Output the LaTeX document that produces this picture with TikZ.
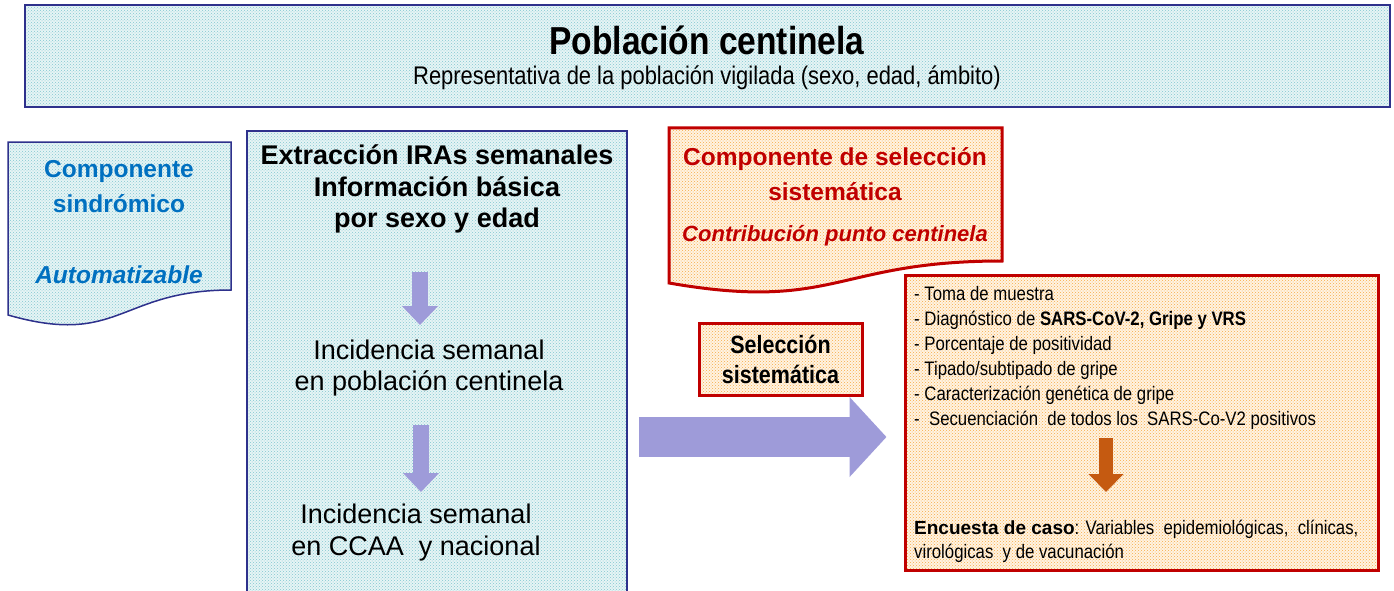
\documentclass[tikz,border=0pt]{standalone}
\usepackage{fontspec}
\setmainfont{Liberation Sans}
\newfontfamily\narrowfont[FakeStretch=0.86]{Liberation Sans}
\usepackage{tikz}
\usetikzlibrary{arrows.meta,patterns,positioning}

\definecolor{clrNavy}{RGB}{46,49,140}
\definecolor{clrTealBg}{RGB}{230,244,245}
\definecolor{clrTealDot}{RGB}{130,200,208}
\definecolor{clrOrangeBg}{RGB}{255,243,226}
\definecolor{clrOrangeDot}{RGB}{246,172,70}
\definecolor{clrRed}{RGB}{192,0,0}
\definecolor{clrBlue}{RGB}{0,112,192}
\definecolor{clrLav}{RGB}{158,155,217}
\definecolor{clrRust}{RGB}{197,90,17}

\tikzstyle{fill_teal}=[preaction={fill=clrTealBg}, pattern=crosshatch dots, pattern color=clrTealDot]
\tikzstyle{fill_orange}=[preaction={fill=clrOrangeBg}, pattern=crosshatch dots, pattern color=clrOrangeDot]
\tikzstyle{box_blue}=[draw=clrNavy, line width=1.5pt, fill_teal, inner sep=0pt]
\tikzstyle{box_red}=[draw=clrRed, line width=3pt, fill_orange, inner sep=0pt]
\tikzstyle{txt}=[inner sep=0pt, align=center]
\tikzstyle{blockarrow}=[line width=16pt, draw=clrLav, -{Triangle[length=19pt,width=35pt]}]
\tikzstyle{bigarrow}=[line width=40pt, draw=clrLav, -{Triangle[length=37pt,width=78pt]}]
\tikzstyle{rustarrow}=[line width=14pt, draw=clrRust, -{Triangle[length=18pt,width=34pt]}]

\begin{document}
\begin{tikzpicture}[x=1pt, y=-1pt]
	\useasboundingbox (0,0) rectangle (1394,591);

	% central column
	\node[box_blue, minimum width=380, minimum height=469] (mid) at (437,365.5) {};
	\node[txt, font=\bfseries\fontsize{27}{31.5}\selectfont] (extr) at (437,189)
		{Extracción IRAs semanales\\Información básica\\por sexo y edad};
	\node[txt, font=\fontsize{27}{31}\selectfont] (inc1) at (429,368)
		{Incidencia semanal\\en población centinela};
	\node[txt, font=\fontsize{27}{32}\selectfont] (inc2) at (416,533)
		{Incidencia semanal\\en CCAA~~y nacional};
	\coordinate (a1s) at (420,272);
	\coordinate (a1e) at (420,325);
	\coordinate (a2s) at (421,425);
	\coordinate (a2e) at (421,492);
	\draw[blockarrow] (a1s) -- (a1e);
	\draw[blockarrow] (a2s) -- (a2e);

	% top banner
	\node[box_blue, line width=2pt, minimum width=1365, minimum height=102] (pob) at (707.5,56) {};
	\node[txt, font=\narrowfont\bfseries\fontsize{39}{44}\selectfont] (title) at (707,40) {Población~centinela};
	\node[txt, font=\narrowfont\fontsize{25.5}{30}\selectfont] (sub) at (707,78)
		{Representativa de la población vigilada (sexo, edad, ámbito)};

	% syndromic component
	\draw[box_blue] (8,142) -- (231,142) -- (231,290) .. controls (119.5,290) and (119.5,347) .. (8,315) -- cycle;
	\node[txt, text=clrBlue, font=\bfseries\fontsize{24.5}{35}\selectfont] (sindro) at (119,187)
		{Componente\\sindrómico};
	\node[txt, text=clrBlue, font=\bfseries\itshape\fontsize{24.5}{30}\selectfont] (auto) at (119,275) {Automatizable};

	% systematic selection component
	\draw[box_red] (669,128) -- (1002,128) -- (1002,261) .. controls (835.5,261) and (835.5,312) .. (669,283) -- cycle;
	\node[txt, text=clrRed, font=\bfseries\fontsize{24.5}{35}\selectfont] (sist) at (835,174)
		{Componente de selección\\sistemática};
	\node[txt, text=clrRed, font=\bfseries\itshape\fontsize{22}{26}\selectfont] (contr) at (835,236)
		{Contribución punto centinela};

	% laboratory and case survey
	\node[box_red, minimum width=473, minimum height=295] (caso) at (1141.5,422.5) {};
	\node[txt, align=left, anchor=west, font=\narrowfont\fontsize{19.5}{25}\selectfont] (lista) at (914,358)
		{- Toma de muestra\\
		 - Diagnóstico de \textbf{SARS-CoV-2, Gripe y VRS}\\
		 - Porcentaje de positividad\\
		 - Tipado/subtipado de gripe\\
		 - Caracterización~genética de gripe\\
		 -~~Secuenciación~~de todos los~~SARS-Co-V2 positivos};
	\node[txt, align=left, anchor=west, font=\narrowfont\fontsize{19.5}{24}\selectfont] (encu) at (914,541)
		{{\setmainfont{Liberation Sans}\fontsize{19}{24}\selectfont\bfseries Encuesta de caso}: Variables~~epidemiológicas,~~clínicas,\\
		 virológicas~~y de vacunación};
	\coordinate (a3s) at (1106,438);
	\coordinate (a3e) at (1106,492);
	\draw[rustarrow] (a3s) -- (a3e);

	% selection step
	\node[box_red, minimum width=163, minimum height=72, font=\narrowfont\bfseries\fontsize{25}{30}\selectfont, align=center]
		(sel) at (780.5,359.5) {Selección\\sistemática};
	\draw[bigarrow, shorten <=11pt, shorten >=17pt] (mid.east |- 0,437) -- (caso.west |- 0,437);
\end{tikzpicture}
\end{document}
